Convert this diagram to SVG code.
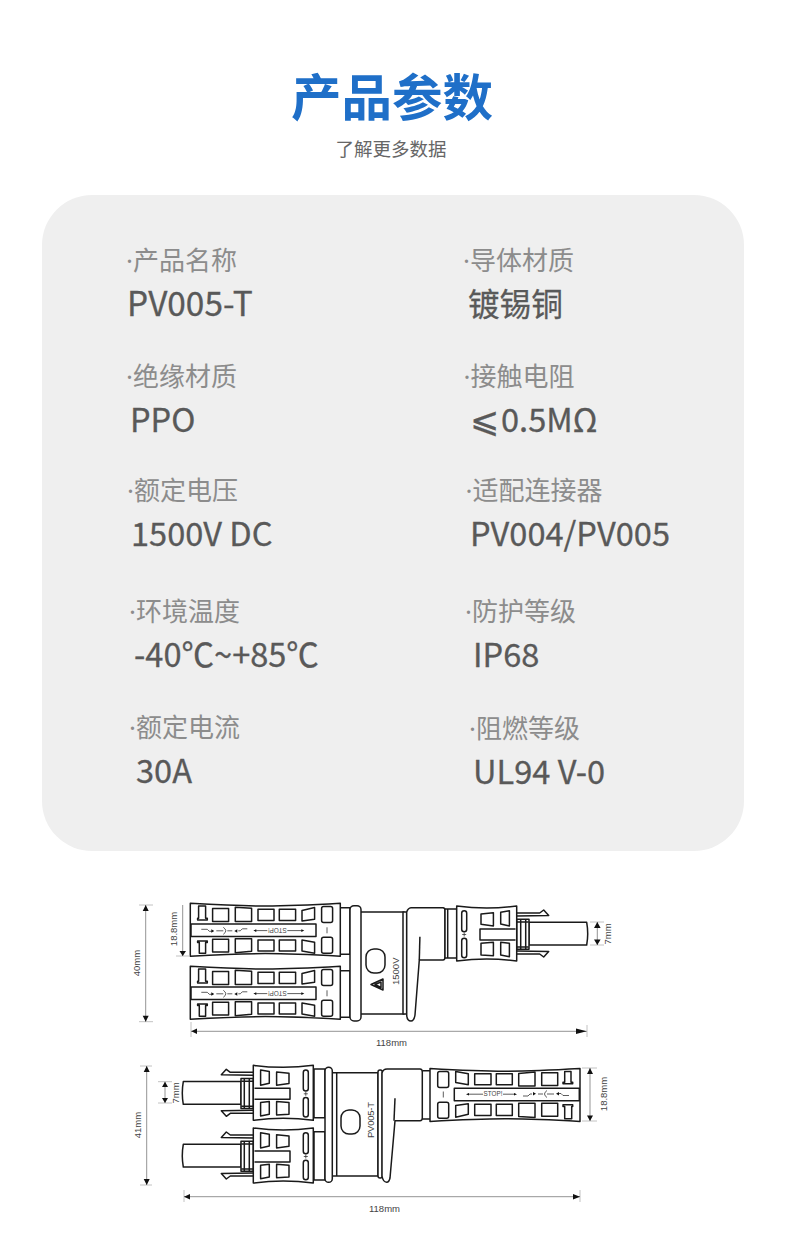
<svg xmlns="http://www.w3.org/2000/svg" width="790" height="1256" viewBox="0 0 790 1256">
<style>
text{font-family:"Noto Sans CJK SC","Noto Sans",sans-serif}
.lab{font-family:"Noto Sans","Noto Sans CJK SC",sans-serif;font-size:26px;fill:#8c8c8c}
.val{font-size:32.6px;fill:#595959;stroke:#595959;stroke-width:.3}
.dr{fill:#fff;stroke:#1a1a1a;stroke-width:1.5;stroke-linejoin:round}
.dn{fill:none;stroke:#1a1a1a;stroke-width:1.5;stroke-linejoin:round}
.th{fill:none;stroke:#333;stroke-width:.8}
.dim{fill:none;stroke:#888;stroke-width:.9}
.tick{fill:none;stroke:#bbb;stroke-width:.9}
.dt{font-family:"Liberation Sans",Arial,sans-serif;font-size:9.5px;fill:#444}
.tiny{font-family:"Liberation Sans",Arial,sans-serif;font-size:6.3px;fill:#444}
.ah{fill:#111}
</style>
<defs>
<g id="long">
<path class="dr" d="M0 0C35 2 50 2.7 75 2.7C100 2.7 115 2 150 0V53C115 51 100 50.3 75 50.3C50 50.3 35 51 0 53Z"/>
<path class="dn" d="M8.3 2.7H15.3V15H17V16.7H7.3V15H8.3ZM22.3 5.3H38.3V18.3H22.3ZM45 4L61.3 5V18.3H45ZM67.7 6H83.7V17.3H67.7ZM89 6H105.3V17.3H89ZM111.7 7.3L124.3 4.3V16L111.7 17.7Z"/>
<rect class="dn" x="131.3" y="3.3" width="11" height="16" rx="2"/>
<rect class="dn" x=".7" y="20.7" width="125" height="12.6"/>
<path class="dn" d="M7.3 37.7H17V39.3H15.3V50H9V39.3H7.3ZM22.3 36H38.3V48.7H22.3ZM45 35.5L61.3 35.5V48L45 49.5ZM67.7 36.7H83.7V47.7H67.7ZM89 36.7H105.3V47.7H89ZM111.7 36.7L124.3 39V50L111.7 47.7Z"/>
<rect class="dn" x="131.3" y="34" width="11" height="16" rx="2"/>
<path class="th" d="M136.7 24V30" stroke-width="1.2"/>
<path class="th" d="M11 26H17L19 28H22M26 27.5H33M33 24Q38 27.5 33 31M37 27.5H42M48 27.5H50L52 25.5H57M65 27.3H77M97 27.3H112"/>
<path class="ah" d="M21 26L24 27.8L21 29.5ZM47 26L44 27.8L47 29.5ZM63 27.3L66 26V28.6ZM114 27.3L111 26V28.6Z"/>
<text class="tiny" transform="translate(87 27.3) rotate(180)" text-anchor="middle" y="2.2">STOP!</text>
</g>
<g id="short">
<path class="dn" d="M60 7H83L87 4L92 9.5L60 10M60 48H83L87 51L92 45.5L60 45"/>
<path class="dr" d="M72.3 16.3H130Q132 27.5 130 39H72.3Z"/>
<rect class="dr" x="60" y="13.3" width="12.3" height="30"/>
<path class="dn" d="M64 13.3V43.3M69 13.3V43.3M60 16H72M60 41H72"/>
<path class="dr" d="M0 0C20 2.7 40 2.7 60 0V55C40 52.3 20 52.3 0 55Z"/>
<rect class="dn" x="5" y="4.7" width="5" height="21" rx="2.5"/>
<rect class="dn" x="5" y="32.3" width="5" height="19.4" rx="2.5"/>
<path class="th" d="M7.5 26.5V30.5M5.5 28.5H9.5" stroke-width="1.1"/>
<path class="dn" d="M24.3 8L36.7 6.7V20L24.3 18.3ZM44 6.3L52.7 4.7V20L44 18ZM58.8 23H23.3V34H58.8M24.3 37.3L36.7 36.3V49.7L24.3 49ZM44 36.3L52.7 37.3V50.7L44 49Z"/>
</g>
</defs>
<rect width="790" height="1256" fill="#fff"/>
<g id="heading">
<text x="392" y="116" text-anchor="middle" font-size="50.5" font-weight="700" fill="#1f6fc8">产品参数</text>
<text x="391" y="156" text-anchor="middle" font-size="18.5" fill="#666">了解更多数据</text>
</g>
<rect id="panel" x="42" y="195" width="702" height="656" rx="50" fill="#efefef"/>
<g id="params">
<text class="lab" x="126" y="270">·产品名称</text><text class="val" x="127" y="316" style="font-size:33.4px">PV005-T</text>
<text class="lab" x="463" y="270">·导体材质</text><text class="val" x="468" y="316" style="font-size:31.6px">镀锡铜</text>
<text class="lab" x="126" y="386">·绝缘材质</text><text class="val" x="130" y="432">PPO</text>
<text class="lab" x="463.5" y="386">·接触电阻</text><text class="val" x="470" y="432"><tspan style="font-size:35px">⩽</tspan><tspan x="501">0.5MΩ</tspan></text>
<text class="lab" x="127" y="500">·额定电压</text><text class="val" x="131" y="546">1500V DC</text>
<text class="lab" x="465.5" y="500">·适配连接器</text><text class="val" x="470" y="546">PV004/PV005</text>
<text class="lab" x="129" y="621">·环境温度</text><text class="val" x="134" y="667">-40℃~+85℃</text>
<text class="lab" x="465" y="621">·防护等级</text><text class="val" x="473" y="667">IP68</text>
<text class="lab" x="129" y="737">·额定电流</text><text class="val" x="136" y="783">30A</text>
<text class="lab" x="469" y="738">·阻燃等级</text><text class="val" x="473" y="784">UL94 V-0</text>
</g>
<g id="top-assembly">
<rect class="dr" x="340" y="907.7" width="10" height="46.6"/>
<rect class="dr" x="340" y="970.7" width="10" height="46.6"/>
<path class="dr" d="M360 912H404V1014H360Z"/>
<rect class="dr" x="350" y="905.7" width="11" height="115.3" rx="4"/>
<rect class="dr" x="403" y="912" width="3.7" height="102"/>
<path class="dr" d="M406.7 912Q408 908 411 907.7H443Q445 908 445 910V957Q445 960 443 960H419.3L415 1015Q414 1021 411 1021Q407 1021 406.7 1015Z"/>
<path class="dn" d="M419.9 936.7L419.3 960"/>
<rect class="dr" x="445" y="909" width="11.7" height="49"/>
<path class="dn" d="M447.7 909V958"/>
<rect class="dn" x="366" y="949" width="19" height="24" rx="8"/>
<path class="dn" d="M371 984.5L383 979V990ZM375 984.5L381 982V987.5Z"/>
<text class="dt" transform="translate(399 985) rotate(-90)">1500V</text>
<use id="top-long-1" href="#long" x="190.3" y="903.3"/>
<use id="top-long-2" href="#long" x="190.3" y="966.3"/>
<use id="top-short" href="#short" x="456.7" y="906"/>
</g>
<g id="bottom-assembly">
<path class="dn" d="M422.3 1070.7H430M422.3 1119H430"/>
<rect class="dr" x="314" y="1069" width="11" height="48.7"/>
<rect class="dr" x="314" y="1131.7" width="11" height="48.3"/>
<rect class="dr" x="332" y="1072.7" width="46" height="103.3"/>
<path class="dn" d="M336.7 1072.7V1176"/>
<rect class="dr" x="325" y="1067.3" width="7.3" height="115" rx="3.6"/>
<rect class="dr" x="378" y="1070" width="4.3" height="108" rx="2"/>
<path class="dr" d="M382 1073Q383 1069 387 1069H420Q422.3 1069 422.3 1072V1118Q422.3 1120.7 420 1120.7H395L390 1178Q389 1182.3 386.7 1182.3Q383 1182 382 1176Z"/>
<path class="dn" d="M395 1098.3L394 1120.7"/>
<rect class="dn" x="341" y="1110" width="19" height="24" rx="8"/>
<text class="dt" transform="translate(374 1138) rotate(-90)" textLength="36">PV005-T</text>
<use id="bottom-long" href="#long" transform="translate(580 1121.5) rotate(180)"/>
<use id="bottom-short-1" href="#short" transform="translate(313.3 1065.3) scale(-1 1)"/>
<use id="bottom-short-2" href="#short" transform="translate(313.3 1128) scale(-1 1)"/>
</g>
<g id="connectors">
<path class="tick" d="M139 905H153M139 1021.7H153M176 956H190M191 1022V1037M587 1025V1037M590 922H604M590 945H604"/>
<path class="dim" d="M145.7 905V1021.7M182.7 905V956M191 1031.3H586.7M597.3 922V945"/>
<path class="ah" d="M145.7 905L142.7 911H148.7ZM145.7 1021.7L142.7 1015.7H148.7ZM182.7 956L179.5 951H186ZM191.3 1031.3L197 1028.5V1034ZM586.7 1031.3L576 1028.5V1034ZM597.3 922L594 928H600.6ZM597.3 945L594 939.5H600.6Z"/>
<path class="tick" d="M140 1066H152M140 1185H152M158 1081.7H172M158 1103H172M184 1190V1202M580 1190V1202M582 1068H597M582 1121H597"/>
<path class="dim" d="M146.7 1066V1185M165 1081.7V1103M184 1196.7H580M590 1068V1121"/>
<path class="ah" d="M146.7 1066L143.7 1072H149.7ZM146.7 1185L143.7 1179H149.7ZM165 1081.7L162 1087H168ZM165 1103L162 1098H168ZM184 1196.7L190 1194V1199.5ZM580 1196.7L573 1194V1199.5ZM590 1068L587 1074H593ZM590 1121L587 1115.5H593Z"/>
<g>
<text class="dt" transform="translate(140 963) rotate(-90)" text-anchor="middle">40mm</text>
<text class="dt" transform="translate(176.5 929) rotate(-90)" text-anchor="middle">18.8mm</text>
<text class="dt" x="376" y="1046">118mm</text>
<text class="dt" transform="translate(611 934) rotate(-90)" text-anchor="middle">7mm</text>
<text class="dt" transform="translate(141 1125) rotate(-90)" text-anchor="middle">41mm</text>
<text class="dt" transform="translate(178.5 1093) rotate(-90)" text-anchor="middle">7mm</text>
<text class="dt" x="369" y="1212">118mm</text>
<text class="dt" transform="translate(607 1094) rotate(-90)" text-anchor="middle">18.8mm</text>
</g>
</g>
</svg>
